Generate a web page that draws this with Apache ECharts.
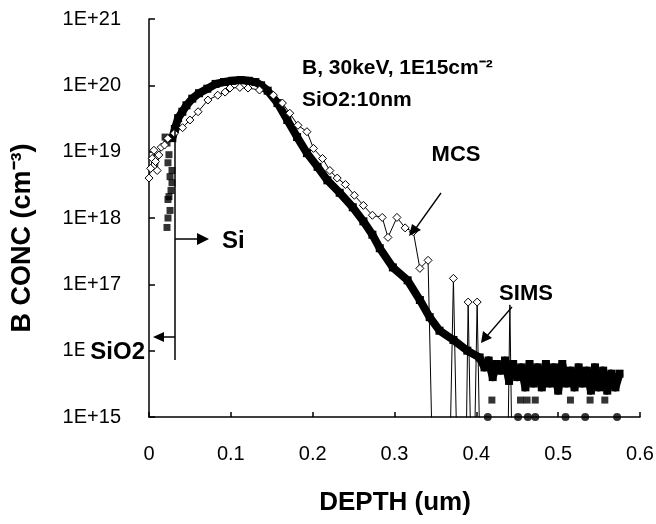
<!DOCTYPE html>
<html><head><meta charset="utf-8">
<script src="https://cdn.jsdelivr.net/npm/echarts@6/dist/echarts.min.js"></script>
<style>html,body{margin:0;padding:0;background:#fff}#c{width:656px;height:524px}</style>
</head><body><div id="c"></div>
<script>
// ---- data (depth in um, B concentration in cm^-3) ----
const xTickLabels = ['0', '0.1', '0.2', '0.3', '0.4', '0.5', '0.6'];

// SIMS: main profile (connected, thick)
const simsDepth = [0.0285, 0.0316, 0.0356, 0.0407, 0.0458, 0.0529, 0.0611, 0.0713, 0.0814, 0.0916, 0.1018, 0.112, 0.122, 0.130, 0.137, 0.145, 0.157, 0.169, 0.181, 0.193, 0.206, 0.218, 0.233, 0.249, 0.262, 0.273, 0.282, 0.298, 0.316, 0.331, 0.343, 0.355, 0.372, 0.389, 0.404,
  0.410, 0.415, 0.420, 0.425, 0.430, 0.435, 0.440, 0.445, 0.450, 0.455, 0.460, 0.465, 0.470, 0.475, 0.480, 0.485, 0.490, 0.495, 0.500, 0.505, 0.510, 0.515, 0.520, 0.525, 0.530, 0.535, 0.540, 0.545, 0.550, 0.555, 0.560, 0.565, 0.570, 0.575];
const simsConc = [1.6e19, 2.2e19, 3.2e19, 4.0e19, 5.0e19, 6.3e19, 7.6e19, 8.9e19, 1.05e20, 1.12e20, 1.17e20, 1.2e20, 1.17e20, 1.12e20, 1.0e20, 8.3e19, 5.4e19, 3.0e19, 1.66e19, 9.5e18, 5.9e18, 3.7e18, 2.4e18, 1.45e18, 8.9e17, 5.6e17, 3.5e17, 1.8e17, 1.15e17, 5.8e16, 3.2e16, 2.0e16, 1.45e16, 1.0e16, 7.9e15,
  5.6e15, 7.1e15, 4.0e15, 6.3e15, 5.0e15, 7.1e15, 3.5e15, 6.3e15, 4.0e15, 5.6e15, 2.8e15, 6.3e15, 3.2e15, 5.6e15, 2.8e15, 6.3e15, 3.2e15, 5.6e15, 2.5e15, 6.3e15, 3.2e15, 5.0e15, 2.8e15, 5.6e15, 3.2e15, 5.0e15, 2.5e15, 5.6e15, 2.8e15, 5.0e15, 2.5e15, 4.5e15, 2.8e15, 4.5e15];

// SIMS: scattered points near the surface
const simsSurfDepth = [0.0220, 0.0232, 0.0257, 0.0232, 0.0244, 0.0281, 0.0257, 0.0281, 0.0232, 0.0220, 0.0196, 0.0269, 0.0244];
const simsSurfConc = [7.2e17, 1.0e18, 1.3e18, 1.9e18, 2.1e18, 3.4e18, 4.2e18, 5.2e18, 6.8e18, 1.35e19, 1.66e19, 2.6e18, 9.0e18];

// SIMS: isolated low points in the tail and points at the floor
const simsLowDepth = [0.419, 0.454, 0.462, 0.472, 0.515, 0.539, 0.557];
const simsLowConc = [1.8e15, 1.8e15, 1.8e15, 1.8e15, 1.8e15, 1.8e15, 1.8e15];
const simsFloorDepth = [0.414, 0.451, 0.463, 0.472, 0.509, 0.533, 0.572];
const simsFloorConc = [1e15, 1e15, 1e15, 1e15, 1e15, 1e15, 1e15];

// MCS (1e14 = below the 1E15 floor, i.e. no counts)
const mcsDepth = [0.000, 0.002, 0.004, 0.006, 0.008, 0.010, 0.012, 0.015, 0.019, 0.023, 0.031, 0.041, 0.050, 0.060, 0.072, 0.084, 0.093, 0.099, 0.111, 0.121, 0.135, 0.152, 0.163, 0.172, 0.182, 0.193, 0.201, 0.212, 0.221, 0.230, 0.240, 0.251, 0.262, 0.273, 0.285, 0.292, 0.303, 0.313, 0.323, 0.331, 0.341,
  0.347, 0.367, 0.372, 0.377, 0.387, 0.390, 0.394, 0.397, 0.401, 0.405, 0.438, 0.441, 0.444];
const mcsConc = [4.0e18, 5.6e18, 7.9e18, 1.05e19, 7.1e18, 5.2e18, 8.9e18, 1.17e19, 1.26e19, 1.58e19, 1.9e19, 2.3e19, 3.0e19, 4.0e19, 6.0e19, 7.1e19, 7.9e19, 9.1e19, 9.3e19, 9.1e19, 8.5e19, 7.1e19, 5.4e19, 3.8e19, 2.5e19, 2.0e19, 1.12e19, 7.9e18, 5.2e18, 4.0e18, 3.2e18, 2.2e18, 1.55e18, 1.1e18, 1.02e18, 5.1e17, 1.02e18, 7.1e17, 6.2e17, 1.74e17, 2.3e17,
  1e14, 1e14, 1.23e17, 1e14, 1e14, 5.4e16, 1e14, 1e14, 5.4e16, 1e14, 1e14, 4.9e16, 1e14];
const mcsHiddenSymbol = [0.441];

// ---- chart ----
const pairs = (xs, ys) => xs.map((x, i) => [x, ys[i]]);
const F = '"Liberation Sans", Arial, sans-serif';

const chart = echarts.init(document.getElementById('c'), null, {renderer: 'canvas'});
chart.setOption({
  animation: false,
  backgroundColor: '#fff',
  grid: {left: 149, right: 16, top: 19, bottom: 107, outerBoundsMode: 'none', containLabel: false},
  xAxis: {
    type: 'value', min: 0, max: 0.6, interval: 0.1,
    axisLine: {lineStyle: {color: '#000', width: 1.5}},
    axisTick: {inside: true, length: 5, lineStyle: {color: '#000', width: 1.5}},
    axisLabel: {margin: 27, color: '#000', fontFamily: F, fontSize: 20,
      formatter: v => xTickLabels[Math.round(v * 10)]},
    splitLine: {show: false}
  },
  yAxis: {
    type: 'log', logBase: 10, min: 1e15, max: 1e21, splitNumber: 6,
    axisLine: {lineStyle: {color: '#000', width: 1.5}},
    axisTick: {inside: true, length: 6, lineStyle: {color: '#000', width: 1.5}},
    axisLabel: {margin: 28, color: '#000', fontFamily: F, fontSize: 20,
      formatter: v => '1E+' + Math.round(Math.log10(v))},
    splitLine: {show: false},
    minorTick: {show: false}
  },
  series: [
    {
      name: 'SIMS', type: 'line', data: pairs(simsDepth, simsConc),
      lineStyle: {color: '#000', width: 8, join: 'round'}, symbol: 'rect', symbolSize: 8,
      itemStyle: {color: '#000'}, z: 2
    },
    {
      name: 'SIMS surface', type: 'scatter', data: pairs(simsSurfDepth, simsSurfConc),
      symbol: 'rect', symbolSize: 7, itemStyle: {color: '#000'}, z: 2
    },
    {
      name: 'SIMS low', type: 'scatter', data: pairs(simsLowDepth, simsLowConc),
      symbol: 'rect', symbolSize: 7, itemStyle: {color: '#000'}, z: 2
    },
    {
      name: 'SIMS floor', type: 'scatter', data: pairs(simsFloorDepth, simsFloorConc),
      symbol: 'circle', symbolSize: 8, itemStyle: {color: '#000'}, z: 2
    },
    {
      name: 'MCS', type: 'line', clip: true,
      data: mcsDepth.map((x, i) => mcsHiddenSymbol.includes(x)
        ? {value: [x, mcsConc[i]], symbol: 'none'} : [x, mcsConc[i]]),
      lineStyle: {color: '#000', width: 1}, symbol: 'diamond', symbolSize: 8,
      itemStyle: {color: '#fff', borderColor: '#000', borderWidth: 1}, z: 3
    }
  ],
  graphic: [
    // axis titles
    {type: 'text', x: 395, y: 503, z: 100,
     style: {text: 'DEPTH (um)', font: 'bold 26px ' + F, fill: '#000', align: 'center', verticalAlign: 'middle'}},
    {type: 'text', x: 23, y: 238, rotation: Math.PI / 2, z: 100,
     style: {text: 'B CONC (cm\u207B\u00B3)', font: 'bold 27px ' + F, fill: '#000', align: 'center', verticalAlign: 'middle'}},
    // conditions
    {type: 'text', x: 302, y: 68, z: 100,
     style: {text: 'B, 30keV, 1E15cm\u207B\u00B2', font: 'bold 21px ' + F, fill: '#000', align: 'left', verticalAlign: 'middle'}},
    {type: 'text', x: 302, y: 100, z: 100,
     style: {text: 'SiO2:10nm', font: 'bold 21px ' + F, fill: '#000', align: 'left', verticalAlign: 'middle'}},
    // interface marker
    {type: 'line', z: 100, shape: {x1: 175, y1: 118, x2: 175, y2: 360}, style: {stroke: '#000', lineWidth: 1.5}},
    {type: 'line', z: 100, shape: {x1: 175, y1: 239, x2: 200, y2: 239}, style: {stroke: '#000', lineWidth: 1.5}},
    {type: 'polygon', z: 100, shape: {points: [[197, 233], [209, 239], [197, 245]]}, style: {fill: '#000'}},
    {type: 'text', x: 222, y: 241, z: 100,
     style: {text: 'Si', font: 'bold 24px ' + F, fill: '#000', align: 'left', verticalAlign: 'middle'}},
    {type: 'line', z: 100, shape: {x1: 175, y1: 337, x2: 162, y2: 337}, style: {stroke: '#000', lineWidth: 1.5}},
    {type: 'polygon', z: 100, shape: {points: [[164, 332], [153, 337], [164, 342]]}, style: {fill: '#000'}},
    {type: 'text', x: 147, y: 352, z: 100,
     style: {text: 'SiO2', font: 'bold 24px ' + F, fill: '#000', align: 'right', verticalAlign: 'middle',
       backgroundColor: '#fff', padding: [14, 2, 10, 6]}},
    // MCS label + arrow
    {type: 'text', x: 456, y: 155, z: 100,
     style: {text: 'MCS', font: 'bold 22px ' + F, fill: '#000', align: 'center', verticalAlign: 'middle'}},
    {type: 'line', z: 100, shape: {x1: 441, y1: 193, x2: 416, y2: 228}, style: {stroke: '#000', lineWidth: 1.3}},
    {type: 'polygon', z: 100, shape: {points: [[409, 236], [412, 224], [421, 230]]}, style: {fill: '#000'}},
    // SIMS label + arrow
    {type: 'text', x: 526, y: 294, z: 100,
     style: {text: 'SIMS', font: 'bold 22px ' + F, fill: '#000', align: 'center', verticalAlign: 'middle'}},
    {type: 'line', z: 100, shape: {x1: 512, y1: 307, x2: 487, y2: 336}, style: {stroke: '#000', lineWidth: 1.3}},
    {type: 'polygon', z: 100, shape: {points: [[481, 343], [483, 331], [492, 338]]}, style: {fill: '#000'}}
  ]
});
</script></body></html>
